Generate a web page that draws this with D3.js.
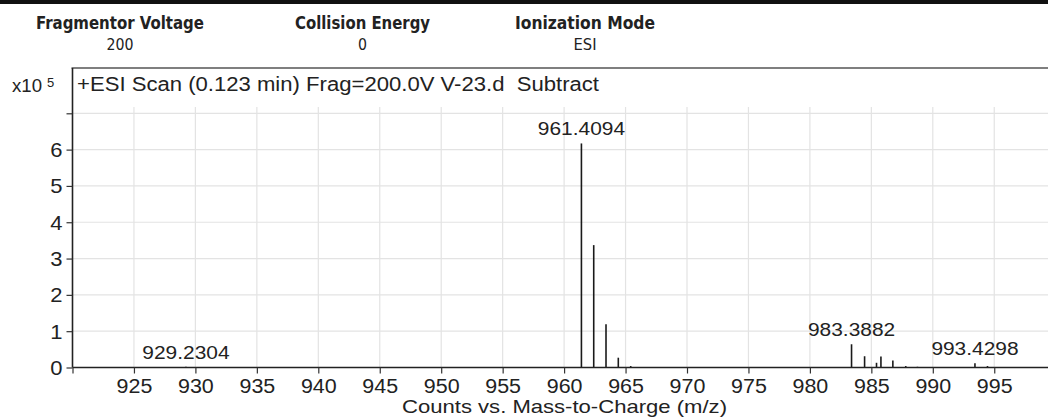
<!DOCTYPE html>
<html><head><meta charset="utf-8">
<script src="https://cdn.jsdelivr.net/npm/d3@7/dist/d3.min.js"></script>
<style>
html,body{margin:0;padding:0;background:#fff;overflow:hidden}
svg{display:block}
text{font-family:"Liberation Sans",Arial,sans-serif;fill:#222;white-space:pre}
</style></head><body>
<script>
// ---- data ----
const headerLabels = ["Fragmentor Voltage", "Collision Energy", "Ionization Mode"];
const headerValues = ["200", "0", "ESI"];
const titleText = "+ESI Scan (0.123 min) Frag=200.0V V-23.d  Subtract";
const xAxisTitle = "Counts vs. Mass-to-Charge (m/z)";
const mzValues = [929.2304, 930.2, 930.7, 931.7, 932.4, 961.4094, 962.41, 963.41, 964.41, 965.42, 975.7, 977.6,
                  983.3882, 984.45, 985.42, 985.78, 986.75, 987.8, 988.75, 993.4298, 994.45];
const counts = [0.02, 0.015, 0.01, 0.012, 0.01, 6.17, 3.37, 1.19, 0.27, 0.04, 0.01, 0.01,
                0.64, 0.31, 0.13, 0.30, 0.19, 0.04, 0.02, 0.12, 0.04];
const labeledPeaks = ["929.2304", "961.4094", "983.3882", "993.4298"];
const xTicks = [920, 925, 930, 935, 940, 945, 950, 955, 960, 965, 970, 975, 980, 985, 990, 995];
const yTicks = [0, 1, 2, 3, 4, 5, 6, 7];

const W = 1048, H = 417;
const svg = d3.select("body").append("svg").attr("width", W).attr("height", H);

const x = d3.scaleLinear().domain([920, 1000]).range([72.5, 72.5 + 80 * 12.29]);
const y = d3.scaleLinear().domain([0, 7]).range([367.5, 113.3]);
const SX = 1.1;

// top black bar
svg.append("rect").attr("x", 0).attr("y", 0).attr("width", W).attr("height", 4).attr("fill", "#111");

// header
const hdrCenters = [120, 362.5, 585];
const hdrWidths = [168, 135, 140];
const hdrValW = [27, 9, 23];
headerLabels.forEach((t, i) => {
  svg.append("text").attr("x", hdrCenters[i] - hdrWidths[i] / 2).attr("y", 29)
    .attr("textLength", hdrWidths[i]).attr("lengthAdjust", "spacingAndGlyphs")
    .style("font-family", '"DejaVu Sans Condensed","DejaVu Sans",sans-serif')
    .style("font-stretch", "condensed")
    .style("font-weight", "bold").style("font-size", "17px").text(t);
  svg.append("text").attr("x", hdrCenters[i] - hdrValW[i] / 2).attr("y", 50)
    .attr("textLength", hdrValW[i]).attr("lengthAdjust", "spacingAndGlyphs")
    .style("font-family", '"DejaVu Sans Condensed","DejaVu Sans",sans-serif')
    .style("font-size", "16.5px").text(headerValues[i]);
});

// gridlines
const g = svg.append("g");
g.selectAll("line.vg").data(xTicks.slice(1)).join("line")
  .attr("x1", d => x(d)).attr("x2", d => x(d)).attr("y1", 107).attr("y2", y(0))
  .attr("stroke", "#e3e3e3").attr("stroke-width", 1.2);
g.selectAll("line.hg").data(yTicks.slice(1)).join("line")
  .attr("x1", x(920)).attr("x2", W).attr("y1", d => y(d)).attr("y2", d => y(d))
  .attr("stroke", "#e3e3e3").attr("stroke-width", 1.2);

// frame: top line
svg.append("line").attr("x1", 71.5).attr("x2", W).attr("y1", 68).attr("y2", 68)
  .attr("stroke", "#555").attr("stroke-width", 1.3);

// title
svg.append("text").attr("x", 77).attr("y", 91).attr("textLength", 522)
  .attr("lengthAdjust", "spacingAndGlyphs").style("font-size", "19.5px").text(titleText);
svg.append("text").attr("x", 12).attr("y", 92).attr("textLength", 30)
  .attr("lengthAdjust", "spacingAndGlyphs").style("font-size", "19px").text("x10");
svg.append("text").attr("x", 47).attr("y", 87).style("font-size", "13px").text("5");

// sticks
const peaks = mzValues.map((m, i) => ({mz: m, c: counts[i]}));
svg.append("g").selectAll("line").data(peaks).join("line")
  .attr("x1", d => x(d.mz)).attr("x2", d => x(d.mz))
  .attr("y1", y(0)).attr("y2", d => y(d.c))
  .attr("stroke", "#1a1a1a").attr("stroke-width", 1.6);

// peak labels
svg.append("g").selectAll("text").data(peaks.filter(p => labeledPeaks.includes(p.mz.toFixed(4)))).join("text")
  .attr("transform", d => `translate(${x(d.mz)},${y(d.c) - 8}) scale(${SX},1)`)
  .attr("text-anchor", "middle").style("font-size", "19px")
  .text(d => d.mz.toFixed(4));

// axes
const xAxis = svg.append("g").attr("transform", `translate(0,${y(0)})`)
  .call(d3.axisBottom(x).tickValues(xTicks).tickSize(6).tickSizeOuter(0)
    .tickFormat(d => d === 920 ? "" : d3.format("d")(d)));
xAxis.select(".domain").attr("d", `M${x(920)},0H${W}`).attr("stroke", "#222").attr("stroke-width", 1.6);
xAxis.selectAll(".tick line").attr("stroke", "#333").attr("stroke-width", 1.2);
xAxis.selectAll(".tick text").attr("y", 0).attr("dy", 0)
  .attr("transform", `translate(0,25.5) scale(${SX},1)`)
  .style("font-size", "19.5px").style("font-family", '"Liberation Sans",Arial,sans-serif').attr("fill", "#222");

const yAxis = svg.append("g").attr("transform", `translate(${x(920)},0)`)
  .call(d3.axisLeft(y).tickValues(yTicks).tickSize(6).tickSizeOuter(0)
    .tickFormat(d => d === 7 ? "" : d));
yAxis.select(".domain").attr("d", `M0,68V${y(0)}`).attr("stroke", "#222").attr("stroke-width", 1.6);
yAxis.selectAll(".tick line").attr("stroke", "#333").attr("stroke-width", 1.2);
yAxis.selectAll(".tick text").attr("x", 0).attr("dy", 0)
  .attr("transform", `translate(-10,7) scale(${SX},1)`)
  .style("font-size", "20px").style("font-family", '"Liberation Sans",Arial,sans-serif').attr("fill", "#222");

// x axis title
svg.append("text").attr("x", 402).attr("y", 412.5).attr("textLength", 325)
  .attr("lengthAdjust", "spacingAndGlyphs").style("font-size", "18.5px").text(xAxisTitle);
</script>
</body></html>
